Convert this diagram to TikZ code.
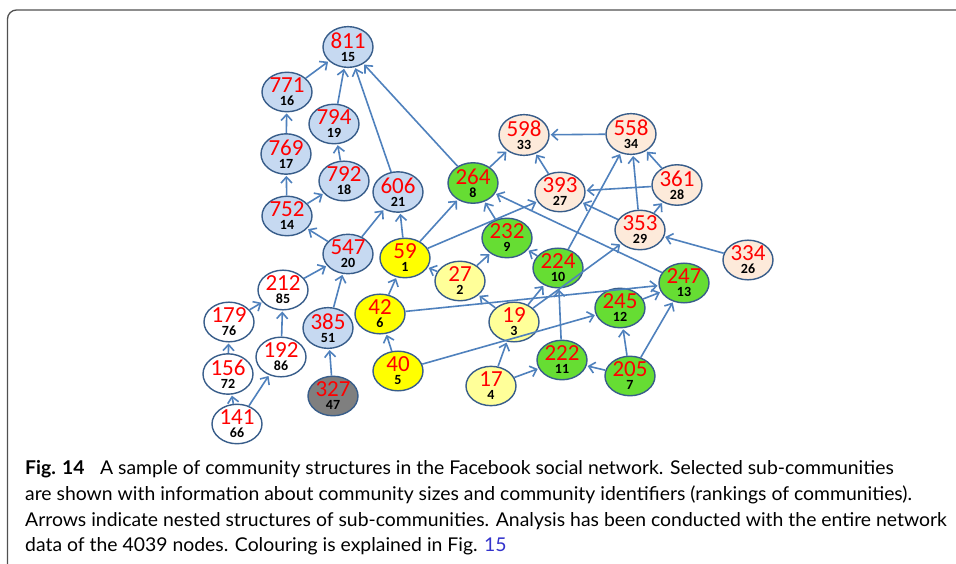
\documentclass[tikz,border=0pt]{standalone}
\usepackage{fontspec}
\usetikzlibrary{shapes.geometric,arrows.meta}
\newfontfamily\nodefont{Carlito}
\newfontfamily\capfont[FakeStretch=1.02]{Lato}
\definecolor{edgeblue}{RGB}{79,129,189}
\definecolor{rimblue}{RGB}{56,93,138}
\definecolor{cblue}{RGB}{198,217,241}
\definecolor{cpeach}{RGB}{253,234,218}
\definecolor{cyellow}{RGB}{255,255,0}
\definecolor{clyellow}{RGB}{255,255,153}
\definecolor{cgreen}{RGB}{102,221,51}
\definecolor{cgray}{RGB}{127,127,127}
\definecolor{numred}{RGB}{255,0,0}
\definecolor{linkblue}{RGB}{51,51,204}
\definecolor{framegray}{RGB}{80,80,80}
% two-line community label: size (red) over rank (black, bold)
\newcommand\commtext[2]{{\fontsize{23}{23}\selectfont\color{numred}#1}\\[-1pt]{\bfseries #2}}
\tikzset{
  comm/.style={ellipse, draw=rimblue, line width=1.4pt, minimum width=50pt,
    minimum height=39pt, inner sep=0pt, align=center,
    font=\nodefont\fontsize{14}{14}\selectfont},
  nest/.style={draw=edgeblue, line width=1.6pt, -{Straight Barb[length=6pt,width=11pt,line width=1.6pt]}, shorten >=1pt},
  capline/.style={anchor=base west, inner sep=0pt, font=\capfont\fontsize{19}{19}\selectfont}
}
\begin{document}
\begin{tikzpicture}[x=1pt,y=-1pt]
\useasboundingbox (0,0) rectangle (956,564);
\fill[white] (0,0) rectangle (956,564);
\draw[framegray, line width=1.3pt, rounded corners=9pt] (970,10) -- (7.5,10) -- (7.5,580);

% blue communities
\node[comm, fill=cblue] (n811) at (348,47) {\commtext{811}{15}};
\node[comm, fill=cblue] (n771) at (287,92) {\commtext{771}{16}};
\node[comm, fill=cblue] (n794) at (334,124) {\commtext{794}{19}};
\node[comm, fill=cblue] (n769) at (286,154) {\commtext{769}{17}};
\node[comm, fill=cblue] (n792) at (344,181) {\commtext{792}{18}};
\node[comm, fill=cblue] (n606) at (398,192) {\commtext{606}{21}};
\node[comm, fill=cblue] (n752) at (287,216) {\commtext{752}{14}};
\node[comm, fill=cblue] (n547) at (348,254) {\commtext{547}{20}};
\node[comm, fill=cblue] (n385) at (328,328) {\commtext{385}{51}};
\node[comm, fill=cgray] (n327) at (333,396) {\commtext{327}{47}};
% white communities
\node[comm, fill=white] (n212) at (283,290) {\commtext{212}{85}};
\node[comm, fill=white] (n179) at (229,322) {\commtext{179}{76}};
\node[comm, fill=white] (n156) at (228,374) {\commtext{156}{72}};
\node[comm, fill=white] (n192) at (281,357) {\commtext{192}{86}};
\node[comm, fill=white] (n141) at (237,424) {\commtext{141}{66}};
% yellow communities
\node[comm, fill=cyellow] (n59) at (405,258) {\commtext{59}{1}};
\node[comm, fill=cyellow] (n42) at (380,314) {\commtext{42}{6}};
\node[comm, fill=cyellow] (n40) at (398,371) {\commtext{40}{5}};
\node[comm, fill=clyellow] (n27) at (460,281) {\commtext{27}{2}};
\node[comm, fill=clyellow] (n19) at (514,322) {\commtext{19}{3}};
\node[comm, fill=clyellow] (n17) at (491,386) {\commtext{17}{4}};
% green communities
\node[comm, fill=cgreen] (n264) at (473,183) {\commtext{264}{8}};
\node[comm, fill=cgreen] (n232) at (507,238) {\commtext{232}{9}};
\node[comm, fill=cgreen] (n224) at (558,268) {\commtext{224}{10}};
\node[comm, fill=cgreen] (n222) at (562,360) {\commtext{222}{11}};
\node[comm, fill=cgreen] (n245) at (620,308) {\commtext{245}{12}};
\node[comm, fill=cgreen] (n247) at (684,283) {\commtext{247}{13}};
\node[comm, fill=cgreen] (n205) at (630,376) {\commtext{205}{7}};
% peach communities
\node[comm, fill=cpeach] (n598) at (524,135) {\commtext{598}{33}};
\node[comm, fill=cpeach] (n558) at (631,134) {\commtext{558}{34}};
\node[comm, fill=cpeach] (n393) at (560,192) {\commtext{393}{27}};
\node[comm, fill=cpeach] (n361) at (677,185) {\commtext{361}{28}};
\node[comm, fill=cpeach] (n353) at (640,230) {\commtext{353}{29}};
\node[comm, fill=cpeach] (n334) at (748,260) {\commtext{334}{26}};

% nesting arrows
\foreach \a/\b in {n771/n811, n794/n811, n606/n811, n264/n811,
  n769/n771, n792/n794, n752/n769, n752/n792,
  n547/n752, n547/n606, n59/n606, n59/n264, n59/n393,
  n212/n547, n385/n547, n179/n212, n192/n212, n156/n179,
  n141/n156, n141/n192, n327/n385,
  n42/n59, n27/n59, n27/n232, n40/n42, n42/n247, n40/n245,
  n264/n598, n232/n264, n393/n598, n558/n598, n361/n558,
  n361/n393, n353/n393, n353/n558, n353/n361, n334/n353,
  n224/n232, n224/n558, n247/n264,
  n19/n27, n19/n224, n19/n353, n17/n19, n17/n222,
  n222/n224, n205/n222, n205/n245, n205/n247, n245/n247}
  \draw[nest] (\a) -- (\b);

% caption
\node[capline] (cap1) at (25,474) {{\bfseries Fig. 14}\hspace{0.55em} A sample of community structures in the Facebook social network. Selected sub-communities};
\node[capline] (cap2) at (25,500) {are shown with information about community sizes and community identifiers (rankings of communities).};
\node[capline] (cap3) at (25,526) {Arrows indicate nested structures of sub-communities. Analysis has been conducted with the entire network};
\node[capline] (cap4) at (25,551) {data of the 4039 nodes. Colouring is explained in Fig. \textcolor{linkblue}{15}};
\end{tikzpicture}
\end{document}
